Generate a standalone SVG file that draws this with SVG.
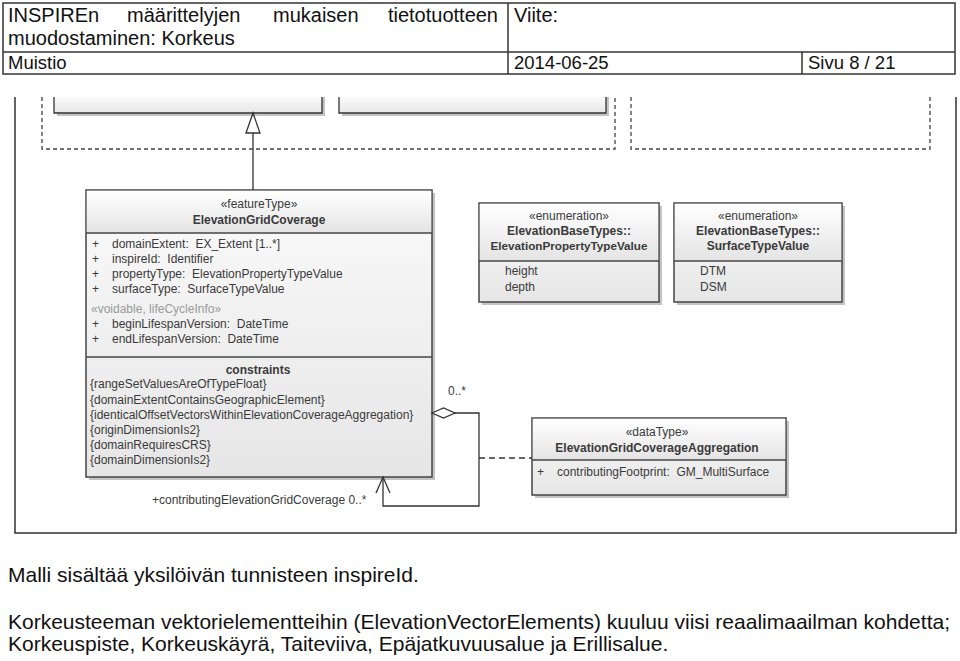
<svg xmlns="http://www.w3.org/2000/svg" width="960" height="661" viewBox="0 0 960 661">
<defs>
  <linearGradient id="hdr" x1="0" y1="0" x2="0" y2="1">
    <stop offset="0" stop-color="#ffffff"/>
    <stop offset="1" stop-color="#e4e4e4"/>
  </linearGradient>
  <linearGradient id="bodyg" x1="0" y1="0" x2="0" y2="1">
    <stop offset="0" stop-color="#fafafa"/>
    <stop offset="1" stop-color="#e6e6e6"/>
  </linearGradient>
  <marker id="tri" viewBox="0 0 22 16" refX="21" refY="8" markerUnits="userSpaceOnUse" markerWidth="22" markerHeight="16" orient="auto" overflow="visible">
    <path d="M1,1 L21,8 L1,15 Z" fill="#fff" stroke="#333" stroke-width="1.3"/>
  </marker>
  <marker id="diamond" viewBox="0 0 23 10" refX="0" refY="5" markerUnits="userSpaceOnUse" markerWidth="23" markerHeight="10" orient="auto" overflow="visible">
    <path d="M0,5 L11.5,0 L23,5 L11.5,10 Z" fill="#fff" stroke="#333" stroke-width="1.3"/>
  </marker>
  <marker id="open" viewBox="0 0 16 14" refX="16" refY="7" markerUnits="userSpaceOnUse" markerWidth="16" markerHeight="14" orient="auto" overflow="visible">
    <path d="M0,0 L16,7 L0,14" fill="none" stroke="#333" stroke-width="1.3"/>
  </marker>
</defs>
<style>
  .hd{font-family:"Liberation Sans",Arial,sans-serif;font-size:20px;fill:#111}
  .hd2{font-family:"Liberation Sans",Arial,sans-serif;font-size:18.5px;fill:#111}
  .tx{font-family:"Liberation Sans",Arial,sans-serif;font-size:21px;fill:#111}
  .uml{font-family:"Liberation Sans",Arial,sans-serif;font-size:12px;fill:#3a3a3a;white-space:pre}
  .c{text-anchor:middle}
  .b{font-weight:bold}
  .lite{fill:#9a9a9a}
  .frame{fill:none;stroke:#333;stroke-width:1.5}
  .box{fill:url(#bodyg);stroke:#444;stroke-width:1.5}
  .head{fill:url(#hdr)}
  .sep{stroke:#444;stroke-width:1.3}
  .shadow{fill:#c4c4c4}
  .dash{fill:none;stroke:#444;stroke-width:1.3;stroke-dasharray:4 3}
  .line{fill:none;stroke:#333;stroke-width:1.3}
</style>
<rect width="960" height="661" fill="#fff"/>

<g id="header">
  <rect x="3" y="3" width="952" height="71" class="frame"/>
  <line x1="3" y1="52" x2="955" y2="52" class="frame"/>
  <line x1="508" y1="3" x2="508" y2="74" class="frame"/>
  <line x1="802" y1="52" x2="802" y2="74" class="frame"/>
  <text class="hd" x="8" y="22">INSPIREn</text>
  <text class="hd" x="127" y="22">määrittelyjen</text>
  <text class="hd" x="273" y="22">mukaisen</text>
  <text class="hd" x="498" y="22" text-anchor="end">tietotuotteen</text>
  <text class="hd" x="8" y="45">muodostaminen: Korkeus</text>
  <text class="hd" x="514" y="22">Viite:</text>
  <text class="hd2" x="8" y="69">Muistio</text>
  <text class="hd2" x="514" y="69">2014-06-25</text>
  <text class="hd2" x="808" y="69">Sivu 8 / 21</text>
</g>

<g id="diagram-frame">
  <path d="M15 97 V533 H956 V97" class="frame"/>
</g>

<g id="package-left">
  <path d="M42 97 V149 H615 V97" class="dash"/>
</g>
<g id="package-right">
  <path d="M631 97 V149 H930 V97" class="dash"/>
</g>

<g id="top-class-1">
  <rect x="57" y="97" width="268" height="19" class="shadow"/>
  <rect x="54" y="97" width="268" height="16" fill="url(#bodyg)"/>
  <path d="M54 97 V113 H322 V97" class="line" stroke-width="1.5"/>
</g>
<g id="top-class-2">
  <rect x="342" y="97" width="267" height="19" class="shadow"/>
  <rect x="339" y="97" width="267" height="16" fill="url(#bodyg)"/>
  <path d="M339 97 V113 H606 V97" class="line" stroke-width="1.5"/>
</g>

<g id="ElevationGridCoverage">
  <rect x="89" y="193" width="346" height="287" class="shadow"/>
  <rect x="86" y="190" width="346" height="287" class="box"/>
  <rect x="86.8" y="190.8" width="344.4" height="42" class="head"/>
  <line x1="86" y1="233" x2="432" y2="233" class="sep"/>
  <rect x="88" y="302" width="342" height="15" fill="#f1f1f1"/>
  <line x1="86" y1="357" x2="432" y2="357" class="sep"/>
  <text class="uml c" x="259" y="208">«featureType»</text>
  <text class="uml c b" x="259" y="224">ElevationGridCoverage</text>
  <text class="uml" x="92" y="248">+</text><text class="uml" x="112" y="248">domainExtent:  EX_Extent [1..*]</text>
  <text class="uml" x="92" y="263">+</text><text class="uml" x="112" y="263">inspireId:  Identifier</text>
  <text class="uml" x="92" y="278">+</text><text class="uml" x="112" y="278">propertyType:  ElevationPropertyTypeValue</text>
  <text class="uml" x="92" y="293">+</text><text class="uml" x="112" y="293">surfaceType:  SurfaceTypeValue</text>
  <text class="uml lite" x="91" y="313">«voidable, lifeCycleInfo»</text>
  <text class="uml" x="92" y="328">+</text><text class="uml" x="112" y="328">beginLifespanVersion:  DateTime</text>
  <text class="uml" x="92" y="343">+</text><text class="uml" x="112" y="343">endLifespanVersion:  DateTime</text>
  <text class="uml c b" x="258" y="374">constraints</text>
  <text class="uml" x="90" y="388">{rangeSetValuesAreOfTypeFloat}</text>
  <text class="uml" x="90" y="404">{domainExtentContainsGeographicElement}</text>
  <text class="uml" x="90" y="419">{identicalOffsetVectorsWithinElevationCoverageAggregation}</text>
  <text class="uml" x="90" y="434">{originDimensionIs2}</text>
  <text class="uml" x="90" y="449">{domainRequiresCRS}</text>
  <text class="uml" x="90" y="464">{domainDimensionIs2}</text>
</g>

<g id="ElevationPropertyTypeValue">
  <rect x="482" y="206" width="180" height="99" class="shadow"/>
  <rect x="479" y="203" width="180" height="99" class="box"/>
  <rect x="479.8" y="203.8" width="178.4" height="57" class="head"/>
  <line x1="479" y1="261" x2="659" y2="261" class="sep"/>
  <text class="uml c" x="569" y="220">«enumeration»</text>
  <text class="uml c b" x="569" y="235">ElevationBaseTypes::</text>
  <text class="uml c b" x="569" y="250" style="font-size:11.7px">ElevationPropertyTypeValue</text>
  <text class="uml" x="505" y="275">height</text>
  <text class="uml" x="505" y="291">depth</text>
</g>

<g id="SurfaceTypeValue">
  <rect x="677" y="206" width="168" height="99" class="shadow"/>
  <rect x="674" y="203" width="168" height="99" class="box"/>
  <rect x="674.8" y="203.8" width="166.4" height="57" class="head"/>
  <line x1="674" y1="261" x2="842" y2="261" class="sep"/>
  <text class="uml c" x="758" y="220">«enumeration»</text>
  <text class="uml c b" x="758" y="235">ElevationBaseTypes::</text>
  <text class="uml c b" x="758" y="250">SurfaceTypeValue</text>
  <text class="uml" x="700" y="275">DTM</text>
  <text class="uml" x="700" y="291">DSM</text>
</g>

<g id="ElevationGridCoverageAggregation">
  <rect x="535" y="421" width="254" height="77" class="shadow"/>
  <rect x="532" y="418" width="254" height="77" class="box"/>
  <rect x="532.8" y="418.8" width="252.4" height="41" class="head"/>
  <line x1="532" y1="460" x2="786" y2="460" class="sep"/>
  <text class="uml c" x="657" y="436">«dataType»</text>
  <text class="uml c b" x="657" y="452">ElevationGridCoverageAggregation</text>
  <text class="uml" x="537" y="476">+</text><text class="uml" x="557" y="476">contributingFootprint:  GM_MultiSurface</text>
</g>

<g id="connectors">
  <path d="M253 190 V113" class="line" marker-end="url(#tri)"/>
  <path d="M432 413 H479 V506 H383 V477" class="line" marker-start="url(#diamond)" marker-end="url(#open)"/>
  <path d="M479 458 H532" class="line" stroke-dasharray="6 4"/>
  <text class="uml" x="448" y="395">0..*</text>
  <text class="uml" x="152" y="504">+contributingElevationGridCoverage 0..*</text>
</g>

<g id="body-text">
  <text class="tx" x="8" y="582">Malli sisältää yksilöivän tunnisteen inspireId.</text>
  <text class="tx" x="8" y="629">Korkeusteeman vektorielementteihin (ElevationVectorElements) kuuluu viisi reaalimaailman kohdetta;</text>
  <text class="tx" x="8" y="651">Korkeuspiste, Korkeuskäyrä, Taiteviiva, Epäjatkuvuusalue ja Erillisalue.</text>
</g>
</svg>
